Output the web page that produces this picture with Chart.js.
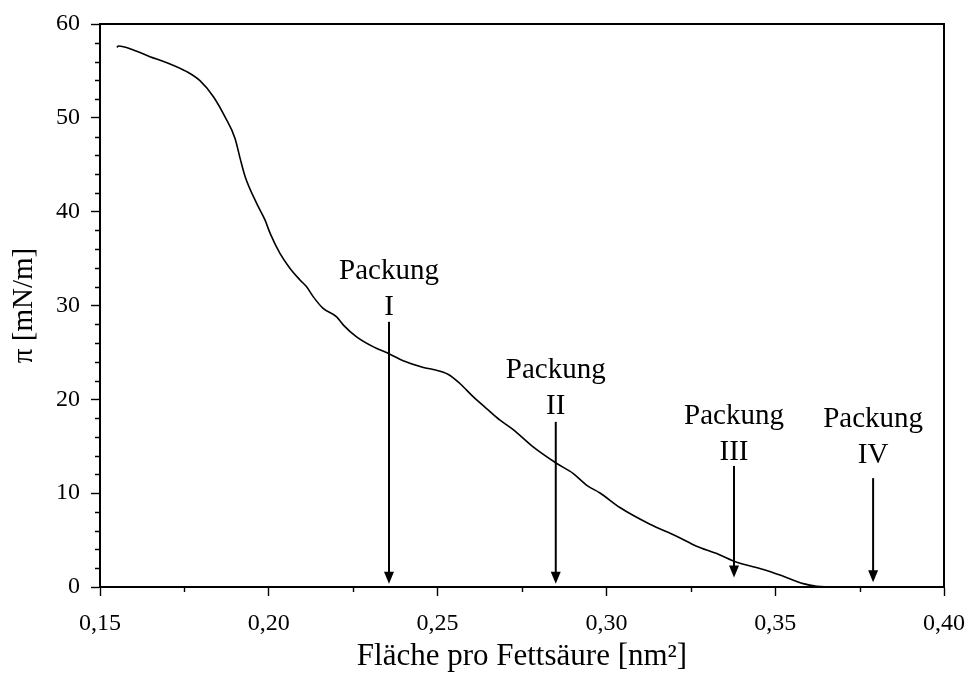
<!DOCTYPE html>
<html lang="de">
<head>
<meta charset="utf-8">
<title>Schub-Flächen-Isotherme</title>
<script src="https://cdn.jsdelivr.net/npm/chart.js@4.4.1/dist/chart.umd.min.js"></script>
<style>
  html, body { margin: 0; padding: 0; background: #ffffff; }
  #wrap { width: 967px; height: 684px; position: relative; }
</style>
</head>
<body>
<div id="wrap"><canvas id="iso"></canvas></div>
<script>
// Isotherme: Fläche pro Fettsäure [nm²] gegen Schub π [mN/m]
const areaNm2 = [
  0.1550, 0.1555, 0.1599, 0.1648, 0.1698, 0.1757, 0.1796, 0.1836, 0.1870, 0.1900,
  0.1915, 0.1930, 0.1964, 0.1989, 0.2004, 0.2033, 0.2063, 0.2093, 0.2112, 0.2132,
  0.2161, 0.2201, 0.2221, 0.2260, 0.2310, 0.2359, 0.2398, 0.2458, 0.2487, 0.2532,
  0.2566, 0.2606, 0.2645, 0.2685, 0.2724, 0.2783, 0.2853, 0.2902, 0.2942, 0.2981,
  0.3040, 0.3129, 0.3208, 0.3267, 0.3327, 0.3376, 0.3406, 0.3465, 0.3524, 0.3583,
  0.3623, 0.3662
];
const piMNm = [
  57.50, 57.66, 57.23, 56.52, 55.88, 54.92, 53.96, 52.25, 50.12, 47.81,
  45.68, 43.72, 40.88, 39.10, 37.68, 35.55, 33.95, 32.70, 31.99, 30.92,
  29.69, 28.79, 27.91, 26.66, 25.59, 24.81, 24.10, 23.39, 23.18, 22.65,
  21.69, 20.26, 19.02, 17.78, 16.78, 14.93, 13.16, 12.09, 10.84, 10.02,
  8.47, 6.69, 5.41, 4.35, 3.56, 2.77, 2.42, 1.86, 1.14, 0.36,
  0.07, 0.00
];

// Achsenteilung
const xTickValues = [0.15, 0.20, 0.25, 0.30, 0.35, 0.40];
const xMinorValues = [0.175, 0.225, 0.275, 0.325, 0.375];
const yTickValues = [0, 10, 20, 30, 40, 50, 60];
const yMinorValues = [2, 4, 6, 8, 12, 14, 16, 18, 22, 24, 26, 28, 32, 34, 36, 38, 42, 44, 46, 48, 52, 54, 56, 58];

// Packungen: Pfeilposition, Pfeilanfang/-spitze und Beschriftungshöhe (in mN/m)
const packungNames = ['I', 'II', 'III', 'IV'];
const packungArea = [0.2356, 0.2850, 0.3378, 0.3790];
const packungArrowTop = [28.26, 17.60, 12.90, 11.60];
const packungArrowTip = [0.35, 0.35, 1.00, 0.50];
const packungLabelPi = [28.97, 18.49, 13.49, 13.20];

const SERIF = '"Liberation Serif", "Times New Roman", "DejaVu Serif", serif';

const frameAndMarks = {
  id: 'frameAndMarks',
  afterDatasetsDraw(chart) {
    const { ctx, chartArea: a, scales: { x, y } } = chart;
    ctx.save();
    // Nebenteilstriche
    ctx.strokeStyle = '#000';
    ctx.lineWidth = 1.4;
    ctx.beginPath();
    yMinorValues.forEach(v => {
      const py = Math.round(y.getPixelForValue(v)) + 0.5;
      ctx.moveTo(a.left - 5, py);
      ctx.lineTo(a.left, py);
    });
    xMinorValues.forEach(v => {
      const px = Math.round(x.getPixelForValue(v)) + 0.5;
      ctx.moveTo(px, a.bottom);
      ctx.lineTo(px, a.bottom + 5);
    });
    ctx.stroke();

    // Rahmen oben und rechts
    ctx.lineWidth = 2;
    ctx.beginPath();
    ctx.moveTo(a.left, a.top);
    ctx.lineTo(a.right, a.top);
    ctx.lineTo(a.right, a.bottom);
    ctx.stroke();

    // Pfeile und Beschriftungen
    ctx.fillStyle = '#000';
    ctx.font = '29px ' + SERIF;
    ctx.textAlign = 'center';
    ctx.textBaseline = 'alphabetic';
    packungNames.forEach((name, i) => {
      const px = x.getPixelForValue(packungArea[i]);
      const top = y.getPixelForValue(packungArrowTop[i]);
      const tip = y.getPixelForValue(packungArrowTip[i]);
      const headH = 12, headW = 5;
      ctx.lineWidth = 2;
      ctx.beginPath();
      ctx.moveTo(px, top);
      ctx.lineTo(px, tip - headH + 1);
      ctx.stroke();
      ctx.beginPath();
      ctx.moveTo(px, tip);
      ctx.lineTo(px - headW, tip - headH);
      ctx.lineTo(px + headW, tip - headH);
      ctx.closePath();
      ctx.fill();

      const base = y.getPixelForValue(packungLabelPi[i]);
      ctx.fillText(name, px, base);
      ctx.fillText('Packung', px, base - 36);
    });
    ctx.restore();
  }
};

new Chart(document.getElementById('iso'), {
  type: 'line',
  data: {
    datasets: [{
      label: 'π',
      data: areaNm2.map((a, i) => ({ x: a, y: piMNm[i] })),
      borderColor: '#000',
      borderWidth: 1.6,
      pointRadius: 0,
      cubicInterpolationMode: 'monotone',
      fill: false
    }]
  },
  options: {
    responsive: true,
    maintainAspectRatio: false,
    animation: false,
    events: [],
    layout: { padding: { left: 0, top: 24, right: 23, bottom: 0 } },
    plugins: { legend: { display: false }, tooltip: { enabled: false } },
    scales: {
      x: {
        type: 'linear',
        min: 0.15,
        max: 0.40,
        afterBuildTicks: s => { s.ticks = xTickValues.map(v => ({ value: v })); },
        afterFit: s => { s.height = 97; s.paddingLeft = 0; s.paddingRight = 0; },
        ticks: {
          color: '#000',
          padding: 13,
          maxRotation: 0,
          autoSkip: false,
          font: { family: SERIF, size: 24 },
          callback: v => Number(v).toFixed(2).replace('.', ',')
        },
        grid: { drawOnChartArea: false, drawTicks: true, tickLength: 9, tickColor: '#000', tickWidth: 1.4 },
        border: { color: '#000', width: 2 },
        title: {
          display: true,
          text: 'Fläche pro Fettsäure [nm²]',
          color: '#000',
          font: { family: SERIF, size: 31 },
          padding: { top: 0, bottom: 9 }
        }
      },
      y: {
        type: 'linear',
        min: 0,
        max: 60,
        afterBuildTicks: s => { s.ticks = yTickValues.map(v => ({ value: v })); },
        afterFit: s => { s.width = 100; s.paddingTop = 0; s.paddingBottom = 0; },
        ticks: {
          color: '#000',
          padding: 11,
          autoSkip: false,
          font: { family: SERIF, size: 24 }
        },
        grid: { drawOnChartArea: false, drawTicks: true, tickLength: 9, tickColor: '#000', tickWidth: 1.4 },
        border: { color: '#000', width: 2 },
        title: {
          display: true,
          text: 'π [mN/m]',
          color: '#000',
          font: { family: SERIF, size: 29 },
          padding: { top: 7, bottom: 0 }
        }
      }
    }
  },
  plugins: [frameAndMarks]
});
</script>
</body>
</html>
